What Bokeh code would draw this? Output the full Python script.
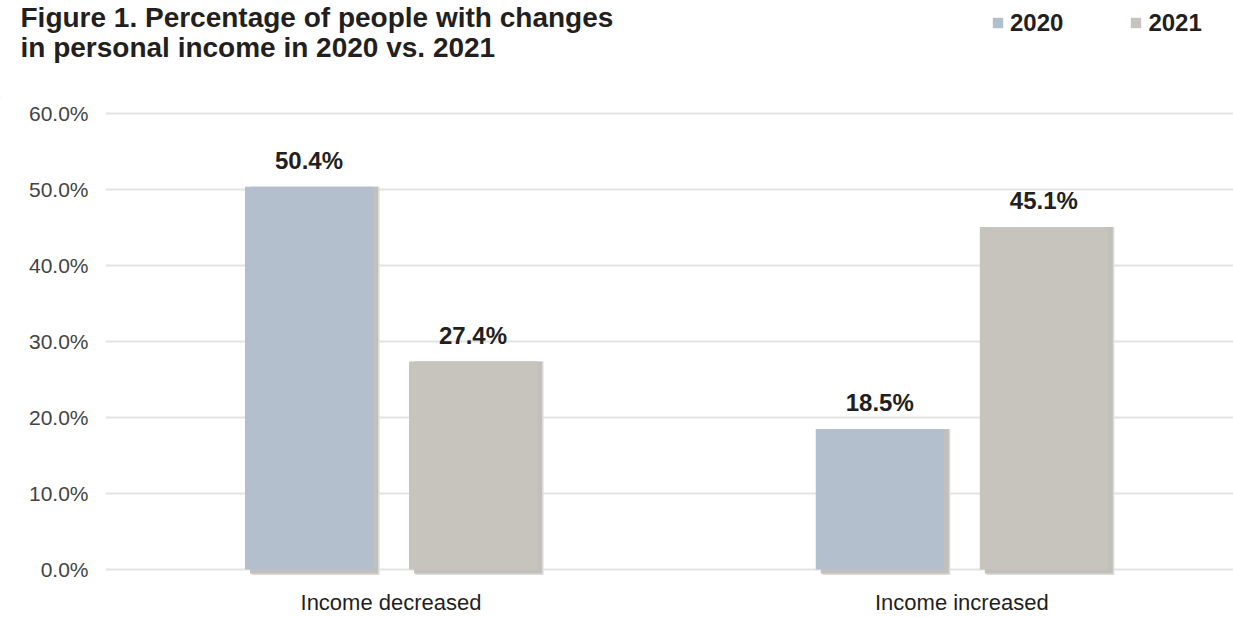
from bokeh.plotting import figure
from bokeh.layouts import column
from bokeh.models import (ColumnDataSource, Legend, LegendItem, FixedTicker,
                          PrintfTickFormatter, Range1d, Label)
from bokeh.core.properties import value
from bokeh.transform import dodge
from bokeh.embed import file_html
from bokeh.resources import INLINE

# ---- data ----
categories = ["Income decreased", "Income increased"]
years = ["2020", "2021"]
values_2020 = [50.4, 18.5]
values_2021 = [27.4, 45.1]
y_ticks = [0, 10, 20, 30, 40, 50, 60]
title_lines = ["Figure 1. Percentage of people with changes",
               "in personal income in 2020 vs. 2021"]

# ---- styles ----
FONT = "Liberation Sans"
TXT = "#231f20"
C2020 = "#b3bfcd"
C2021 = "#c7c4bd"
W = 1233
HEAD_H = 98
MAIN_H = 519

xpos = list(range(len(categories)))
src = ColumnDataSource(dict(
    x=xpos,
    cat=categories,
    v2020=values_2020,
    v2021=values_2021,
    l2020=[f"{v:.1f}%" for v in values_2020],
    l2021=[f"{v:.1f}%" for v in values_2021],
))

# ================= main chart =================
p = figure(width=W, height=MAIN_H, output_backend="svg", toolbar_location=None,
           x_range=Range1d(-0.5002, 1.476), y_range=Range1d(-6.32, 62.01),
           min_border_left=105, min_border_right=0, min_border_top=0,
           min_border_bottom=0)
p.frame_align = False
p.outline_line_color = None
p.background_fill_color = "white"

OFF = 0.1437
BW = 0.2243
DX = 0.0088   # ~5 px
DY = 0.53     # ~4 px

# soft drop shadows
for k, col in enumerate(["#dddcd9", "#c2c0bc"]):
    dx = DX * (1.3 if k == 0 else 1.0)
    dy = DY * (1.35 if k == 0 else 1.0)
    for off, key in [(-OFF, "v2020"), (OFF, "v2021")]:
        p.vbar(x=dodge("x", off + dx, range=p.x_range), top=key, bottom=-dy,
               width=BW, source=src, fill_color=col, line_color=None)

r1 = p.vbar(x=dodge("x", -OFF, range=p.x_range), top="v2020", bottom=0, width=BW,
            source=src, fill_color=C2020, line_color=None)
r2 = p.vbar(x=dodge("x", OFF, range=p.x_range), top="v2021", bottom=0, width=BW,
            source=src, fill_color=C2021, line_color=None)

# value labels
for off, key in [(-OFF, "2020"), (OFF, "2021")]:
    p.text(x=dodge("x", off, range=p.x_range), y="v" + key, text="l" + key, source=src,
           text_align="center", text_baseline="middle", y_offset=-26,
           text_font=value(FONT), text_font_size="24px", text_font_style="bold",
           text_color=TXT)

# category labels below the zero line
p.text(x="x", y=0, text="cat", source=src, text_align="center",
       text_baseline="middle", y_offset=33,
       text_font=value(FONT), text_font_size="22px", text_color=TXT)

p.xaxis.visible = False
p.xaxis.ticker = FixedTicker(ticks=xpos)

p.yaxis.ticker = FixedTicker(ticks=y_ticks)
p.yaxis.formatter = PrintfTickFormatter(format="%.1f%%")
p.yaxis.axis_line_color = None
p.yaxis.major_tick_line_color = None
p.yaxis.minor_tick_line_color = None
p.yaxis.major_tick_out = 0
p.yaxis.major_label_standoff = 17
p.yaxis.major_label_text_font = FONT
p.yaxis.major_label_text_font_size = "21px"
p.yaxis.major_label_text_color = "#444444"

p.xgrid.grid_line_color = None
p.ygrid.grid_line_color = "#e3e3e3"
p.ygrid.grid_line_width = 2

# ================= header (title + legend) =================
h = figure(width=W, height=HEAD_H, output_backend="svg", toolbar_location=None,
           x_range=Range1d(0, W), y_range=Range1d(0, HEAD_H),
           min_border=0, min_border_left=0, min_border_right=0,
           min_border_top=0, min_border_bottom=0)
h.frame_align = False
h.outline_line_color = None
h.axis.visible = False
h.grid.visible = False

# legend keys (single point placed outside the visible header range)
k1 = h.vbar(x=[-1000], top=[1], width=1, fill_color=C2020, line_color=None)
k2 = h.vbar(x=[-1000], top=[1], width=1, fill_color=C2021, line_color=None)
legend = Legend(items=[LegendItem(label=years[0], renderers=[k1]),
                       LegendItem(label=years[1], renderers=[k2])],
                orientation="horizontal", location=(991, HEAD_H - 37.5),
                glyph_width=13, glyph_height=13, label_standoff=6, spacing=66,
                label_height=30, label_width=10,
                padding=0, margin=0, border_line_color=None,
                background_fill_alpha=0,
                label_text_font=FONT, label_text_font_size="24px",
                label_text_font_style="bold", label_text_color=TXT)
h.add_layout(legend, "center")

for line, mid in zip(title_lines, [17.0, 47.2]):
    h.add_layout(Label(x=20, y=HEAD_H - mid, x_units="screen", y_units="screen",
                       text=line, text_font=FONT, text_font_size="28px",
                       text_font_style="bold", text_color=TXT,
                       text_baseline="middle"))

layout = column(h, p, spacing=0)
open("out.html", "w").write(file_html(layout, INLINE))
